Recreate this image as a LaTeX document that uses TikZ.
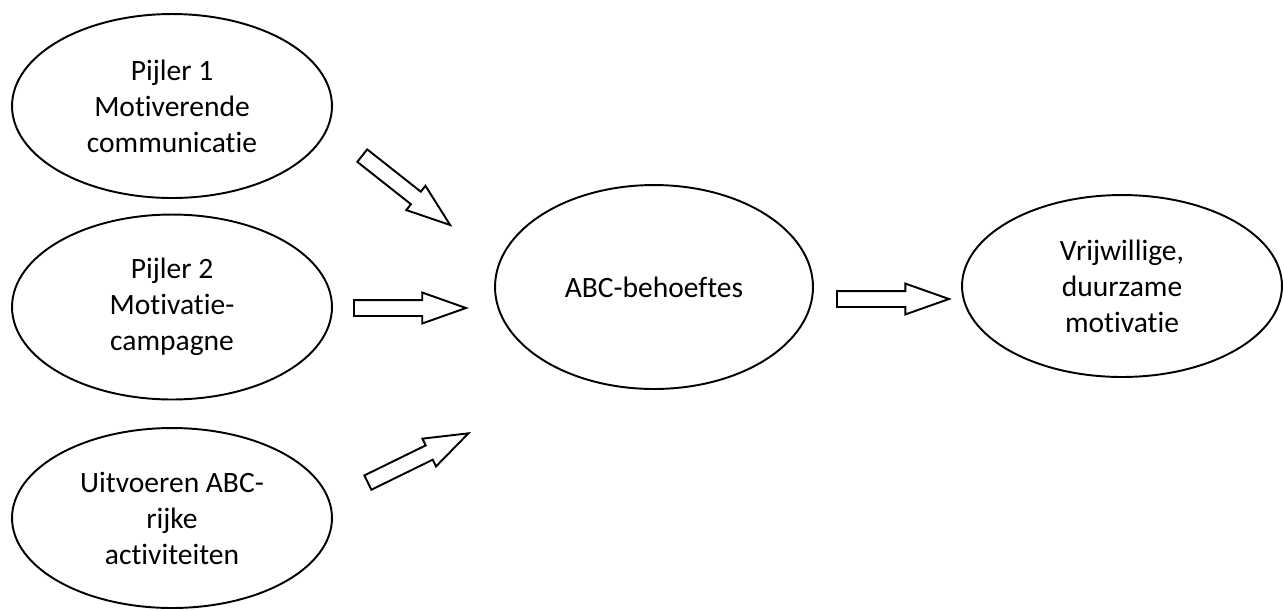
\documentclass[tikz,border=0pt]{standalone}
\usepackage{fontspec}
\setmainfont{Carlito}[Ligatures=NoCommon]
\usetikzlibrary{shapes.geometric,shapes.arrows}
\tikzset{
  pijler/.style={draw, line width=1.1pt, ellipse, inner sep=0pt, align=center,
    minimum width=6.4cm, minimum height=3.68cm, font=\fontsize{16.8}{20.5}\selectfont},
  blokpijl/.style={draw, line width=1.1pt, single arrow, anchor=tail,
    inner xsep=0pt, inner ysep=0.14cm, minimum height=2.24cm,
    single arrow head extend=0.15cm, single arrow tip angle=39,
    single arrow head indent=0pt}
}
\begin{document}
\begin{tikzpicture}[x=0.02cm, y=-0.02cm]
\useasboundingbox (0,0) rectangle (1284,610);
\node [pijler] (p1) at (172,106) {Pijler 1\\Motiverende\\communicatie};
\node [pijler, minimum height=3.7cm] (p2) at (172,307) {Pijler 2\\Motivatie-\\campagne};
\node [pijler, minimum height=3.6cm] (p3) at (172,518) {Uitvoeren ABC-\\rijke\\activiteiten};
\node [pijler, minimum width=6.36cm, minimum height=4.08cm] (abc) at (654,287) {ABC-behoeftes};
\node [pijler, minimum height=3.64cm] (mot) at (1122,286) {Vrijwillige,\\duurzame\\motivatie};
\node [blokpijl, rotate=-38.3] (a1) at (361.5,155) {};
\node [blokpijl] (a2) at (353,308) {};
\node [blokpijl, rotate=26.1] (a3) at (367,483) {};
\node [blokpijl] (a4) at (836,299) {};
\end{tikzpicture}
\end{document}
